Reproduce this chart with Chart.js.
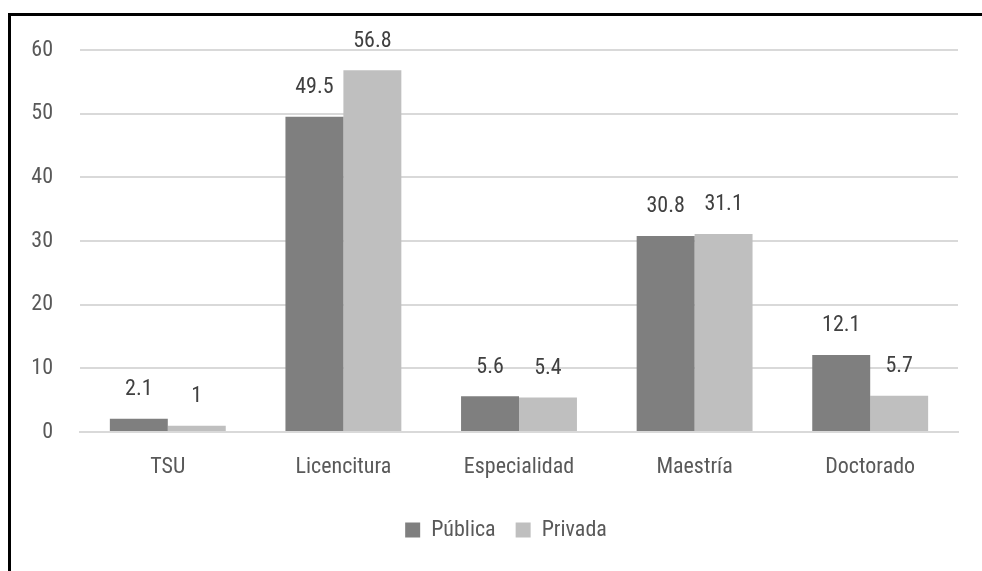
<!DOCTYPE html>
<html>
<head>
<meta charset="utf-8">
<script src="https://cdn.jsdelivr.net/npm/chart.js@4"></script>
<style>
  html, body { margin: 0; padding: 0; background: #fff; }
  #wrap { position: relative; width: 982px; height: 571px; overflow: hidden; }
  #frame { position: absolute; left: 8px; top: 13px; right: 0; bottom: 0;
           border-top: 3px solid #000; border-left: 3px solid #000; }
  #c { position: absolute; left: 0; top: 0; }
</style>
</head>
<body>
<div id="wrap">
  <div id="frame"></div>
  <canvas id="c" width="982" height="571"></canvas>
</div>
<script>
var categories = ["TSU", "Licencitura", "Especialidad", "Maestría", "Doctorado"];
var publica = [2.1, 49.5, 5.6, 30.8, 12.1];
var privada = [1, 56.8, 5.4, 31.1, 5.7];
var yTicks = [0, 10, 20, 30, 40, 50, 60];

// pick the first condensed family that is really installed
function hasFont(name) {
  var c = document.createElement("canvas").getContext("2d");
  var s = "Licencitura Especialidad 0123456789";
  c.font = "72px monospace";
  var a = c.measureText(s).width;
  c.font = "72px '" + name + "', monospace";
  var b = c.measureText(s).width;
  c.font = "72px serif";
  var d = c.measureText(s).width;
  c.font = "72px '" + name + "', serif";
  var e = c.measureText(s).width;
  return a !== b || d !== e;
}
var candidates = ["Roboto Condensed", "Liberation Sans Narrow", "DejaVu Sans Condensed",
                  "Open Sans Condensed", "Noto Sans Condensed", "Arial Narrow"];
var fontFamily = "Roboto";
for (var k = 0; k < candidates.length; k++) {
  if (hasFont(candidates[k])) { fontFamily = candidates[k]; break; }
}
fontFamily = "'" + fontFamily + "', sans-serif";

// labels above each bar
var barLabels = {
  id: "barLabels",
  afterDatasetsDraw: function (chart) {
    var ctx = chart.ctx;
    ctx.save();
    ctx.font = "22px " + fontFamily;
    ctx.fillStyle = "#404040";
    ctx.textAlign = "center";
    ctx.textBaseline = "bottom";
    chart.data.datasets.forEach(function (ds, i) {
      chart.getDatasetMeta(i).data.forEach(function (bar, j) {
        ctx.fillText(String(ds.data[j]), bar.x, bar.y - 18);
      });
    });
    ctx.restore();
  }
};

// legend sits a little right of the canvas centre in the original
var legendShift = {
  id: "legendShift",
  afterLayout: function (chart) {
    chart.legend.left += 27;
    chart.legend.right += 27;
  }
};

Chart.defaults.font.family = fontFamily;
Chart.defaults.font.size = 22;
Chart.defaults.color = "#595959";

var ctx = document.getElementById("c").getContext("2d");
var myChart = new Chart(ctx, {
  type: "bar",
  data: {
    labels: categories,
    datasets: [
      { label: "Pública", data: publica, backgroundColor: "#7f7f7f" },
      { label: "Privada", data: privada, backgroundColor: "#bfbfbf" }
    ]
  },
  options: {
    responsive: false,
    animation: false,
    layout: { padding: { left: 0, right: 24, top: 50, bottom: 20 } },
    datasets: { bar: { categoryPercentage: 0.66, barPercentage: 1 } },
    scales: {
      x: {
        grid: { display: false },
        border: { color: "#d9d9d9", width: 2 },
        ticks: { padding: 14, color: "#595959" },
        afterFit: function (axis) { axis.height = 67; }
      },
      y: {
        min: 0,
        max: 60,
        afterBuildTicks: function (axis) {
          axis.ticks = yTicks.map(function (v) { return { value: v }; });
        },
        grid: { color: "#d9d9d9", lineWidth: 2, drawTicks: false },
        border: { display: false },
        ticks: { padding: 27, color: "#595959" },
        afterFit: function (axis) { axis.width = 80; }
      }
    },
    plugins: {
      legend: {
        position: "bottom",
        labels: { boxWidth: 15, boxHeight: 15, padding: 20, color: "#595959" }
      },
      tooltip: { enabled: false }
    }
  },
  plugins: [barLabels, legendShift]
});
</script>
</body>
</html>
